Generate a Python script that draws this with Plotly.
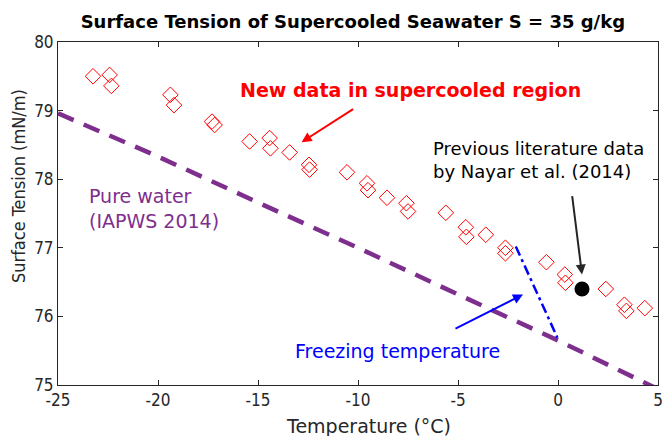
# Surface tension of supercooled seawater, S = 35 g/kg
import plotly.graph_objects as go

# ----------------------------------------------------------------------------------------------------------------------
# Data
# ----------------------------------------------------------------------------------------------------------------------
new_temp = [-23.25, -22.42, -22.33, -19.38, -19.20, -17.30, -17.17, -15.42, -14.42, -14.38, -13.42,
            -12.45, -12.42, -10.55, -9.55, -9.50, -8.55, -7.58, -7.50, -5.61, -4.61, -4.58, -3.61,
            -2.63, -2.63, -0.58, 0.34, 0.37, 2.39, 3.32, 3.42, 4.34]
new_sigma = [79.50, 79.52, 79.36, 79.23, 79.08, 78.84, 78.79, 78.55, 78.60, 78.45, 78.39,
             78.21, 78.14, 78.10, 77.94, 77.84, 77.73, 77.65, 77.53, 77.51, 77.30, 77.16, 77.19,
             77.00, 76.92, 76.79, 76.61, 76.49, 76.40, 76.17, 76.08, 76.12]

nayar_temp = [1.20]
nayar_sigma = [76.40]

pure_temp = [-25, -20, -15, -10, -5, 0, 5]
pure_sigma = [78.96, 78.33, 77.66, 77.00, 76.32, 75.65, 74.94]

freeze_temp = [-2.11, -0.03]
freeze_sigma = [77.02, 75.69]

x_ticks = [-25, -20, -15, -10, -5, 0, 5]
x_tick_labels = ["-25", "-20", "-15", "-10", "-5", "0", "5"]
y_ticks = [75, 76, 77, 78, 79, 80]

# ----------------------------------------------------------------------------------------------------------------------
# Styles
# ----------------------------------------------------------------------------------------------------------------------
FONT = "DejaVu Sans"
NARROW = "DejaVu Sans Condensed, DejaVu Sans"
PURPLE = "#7E2F8E"
AXIS = "#262626"

fig = go.Figure()

fig.add_trace(go.Scatter(x=pure_temp, y=pure_sigma, mode="lines",
                         line=dict(color=PURPLE, width=4.5, dash="17px,11px")))
fig.add_trace(go.Scatter(x=freeze_temp, y=freeze_sigma, mode="lines",
                         line=dict(color="#0000FF", width=2.5, dash="10px,4px,3px,4px")))
fig.add_trace(go.Scatter(x=new_temp, y=new_sigma, mode="markers",
                         marker=dict(symbol="diamond-open", size=12, color="#FF0000",
                                     line=dict(color="#FF0000", width=1))))
fig.add_trace(go.Scatter(x=nayar_temp, y=nayar_sigma, mode="markers",
                         marker=dict(symbol="circle", size=15, color="black")))

# Text labels with arrows
fig.add_annotation(x=-12.82, y=78.54, ax=53, ay=-34, showarrow=True, arrowhead=2, arrowsize=1,
                   arrowwidth=2, arrowcolor="#FF0000", text="")
fig.add_annotation(x=-7.37, y=79.30, showarrow=False, text="<b>New data in supercooled region</b>",
                   font=dict(family=FONT, size=19, color="#FF0000"))

fig.add_annotation(x=1.20, y=76.61, ax=-10, ay=-80, showarrow=True, arrowhead=2, arrowsize=1,
                   arrowwidth=2, arrowcolor="#262626", text="")
fig.add_annotation(x=-6.35, y=78.28, xanchor="left", showarrow=False, align="left",
                   text="Previous literature data<br>by Nayar et al. (2014)",
                   font=dict(family=FONT, size=18, color="black"))

fig.add_annotation(x=-23.57, y=77.57, xanchor="left", showarrow=False, align="left",
                   text="Pure water<br>(IAPWS 2014)", font=dict(family=FONT, size=19, color=PURPLE))

fig.add_annotation(x=-1.75, y=76.32, ax=-69, ay=35, showarrow=True, arrowhead=2, arrowsize=1,
                   arrowwidth=2, arrowcolor="#0000FF", text="")
fig.add_annotation(x=-8.02, y=75.50, showarrow=False, text="Freezing temperature",
                   font=dict(family=FONT, size=19, color="#0000FF"))

# Axis titles (placed as in the reference, a little off-centre)
fig.add_annotation(xref="paper", yref="paper", x=0.5167, y=-0.1195, xanchor="center", yanchor="middle",
                   showarrow=False, text="Temperature (°C)", font=dict(family=FONT, size=19, color=AXIS))
fig.add_annotation(xref="paper", yref="paper", x=-0.0667, y=0.58, xanchor="center", yanchor="middle",
                   showarrow=False, textangle=-90, text="Surface Tension (mN/m)",
                   font=dict(family=NARROW, size=18, color=AXIS))

fig.update_layout(
    width=662, height=436,
    margin=dict(l=58, r=4, t=42, b=51, autoexpand=False),
    paper_bgcolor="white", plot_bgcolor="white",
    showlegend=False,
    font=dict(family=FONT, size=16, color=AXIS),
    title=dict(text="<b>Surface Tension of Supercooled Seawater S = 35 g/kg</b>",
               x=0.533, xanchor="center", y=0.9495, yanchor="middle",
               font=dict(family=FONT, size=18, color="black")),
)

fig.update_xaxes(range=[-25, 5], tickvals=x_ticks, ticktext=x_tick_labels, ticks="inside", ticklen=5,
                 showgrid=False, zeroline=False, showline=True, linecolor=AXIS, linewidth=1,
                 mirror="ticks", tickcolor=AXIS, automargin=False, ticklabeloverflow="allow",
                 tickfont=dict(family=NARROW, size=17))
fig.update_yaxes(range=[75, 80], tickvals=y_ticks, ticks="inside", ticklen=5,
                 showgrid=False, zeroline=False, showline=True, linecolor=AXIS, linewidth=1,
                 mirror="ticks", tickcolor=AXIS, automargin=False, ticklabeloverflow="allow",
                 tickfont=dict(family=NARROW, size=17))

# drop the default page margin so the figure fills the window exactly; hide the modebar
fig.write_html("out.html", config={"displayModeBar": False},
               post_script="document.body.style.margin='0';document.body.style.overflow='hidden';")
